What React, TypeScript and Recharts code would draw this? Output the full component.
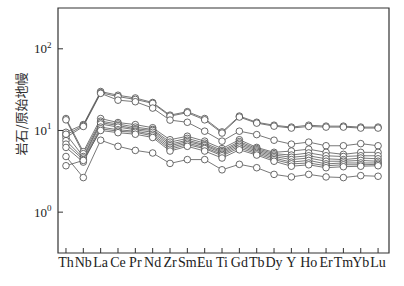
import React from 'react';
import { LineChart, Line, XAxis, YAxis, ReferenceArea } from 'recharts';

const categories = ['Th', 'Nb', 'La', 'Ce', 'Pr', 'Nd', 'Zr', 'Sm', 'Eu', 'Ti', 'Gd', 'Tb', 'Dy', 'Y', 'Ho', 'Er', 'Tm', 'Yb', 'Lu'];

const upper1 = [9.5, 11.8, 30, 27, 25, 22, 15.4, 17, 14, 9.6, 15, 12.6, 11.6, 11, 11.6, 11.3, 11.3, 11, 11];
const upper2 = [8.8, 11.5, 29, 26, 24, 21.5, 15, 16.5, 13.5, 9.3, 14.6, 12.3, 11.3, 10.7, 11.2, 11, 11, 10.7, 10.7];
const upper3 = [8.2, 11.2, 28.5, 23.5, 22.5, 18.8, 13.4, 12.6, 9.8, 7.4, 9.8, 8.9, 7.6, 6.8, 7.2, 6.5, 6.5, 6.9, 6.5];
const mid1 = [14, 5.5, 14, 12.5, 11.8, 10.8, 7.7, 8.5, 7.4, 6.0, 7.7, 6.2, 5.4, 5.6, 5.9, 5.4, 5.1, 5.4, 5.4];
const mid2 = [13.5, 5.2, 13, 12, 11, 10.3, 7.2, 8.0, 7.0, 5.7, 7.3, 6.0, 5.2, 5.0, 5.3, 4.9, 4.8, 4.9, 4.9];
const mid3 = [9, 4.8, 12.5, 11.5, 10.5, 10, 6.8, 7.6, 6.7, 5.5, 7.0, 5.8, 5.0, 4.7, 4.9, 4.5, 4.4, 4.6, 4.5];
const mid4 = [7.5, 4.6, 12, 11, 10.2, 9.5, 6.5, 7.3, 6.5, 5.3, 6.7, 5.6, 4.8, 4.4, 4.6, 4.2, 4.2, 4.3, 4.2];
const mid5 = [6.8, 4.4, 11, 10.2, 9.8, 9, 6.2, 7.0, 6.2, 5.1, 6.4, 5.4, 4.6, 4.1, 4.3, 3.9, 4.0, 4.0, 4.0];
const mid6 = [6.2, 4.1, 10.5, 9.8, 9.5, 8.6, 5.9, 6.7, 6.0, 4.9, 6.1, 5.2, 4.4, 3.9, 4.0, 3.7, 3.8, 3.8, 3.85];
const mid7 = [3.7, 4.3, 10, 9.4, 9.0, 8.2, 5.6, 6.4, 5.6, 4.6, 5.8, 5.0, 4.2, 3.65, 3.8, 3.5, 3.6, 3.65, 3.7];
const low1 = [4.8, 2.65, 7.6, 6.4, 5.7, 5.3, 3.95, 4.4, 4.4, 3.3, 3.85, 3.5, 2.9, 2.7, 2.9, 2.7, 2.65, 2.8, 2.75];

const seriesList = [upper1, upper2, upper3, mid1, mid2, mid3, mid4, mid5, mid6, mid7, low1];
const yTicks = [1, 10, 100];
const yExponents = ['0', '1', '2'];

const data = categories.map((c, i) => {
  const row: Record<string, number | string> = { x: i, name: c };
  seriesList.forEach((s, k) => {
    row['s' + k] = s[i];
  });
  return row;
});

const serifStyle = { fontFamily: "'Liberation Serif', 'Times New Roman', 'DejaVu Serif', serif" };

const XTick = (props: any) => {
  const { x, y, payload } = props;
  return (
    <g>
      <line x1={x} y1={y} x2={x} y2={y - 5} stroke="#333" strokeWidth={1} />
      <text x={x} y={y + 14} textAnchor="middle" style={serifStyle} fontSize={14} fill="#222">
        {categories[payload.value]}
      </text>
    </g>
  );
};

const YTick = (props: any) => {
  const { x, y, payload } = props;
  const idx = yTicks.indexOf(payload.value);
  return (
    <g>
      <line x1={x} y1={y} x2={x + 5} y2={y} stroke="#333" strokeWidth={1} />
      <text x={x - 11} y={y + 4.5} textAnchor="end" style={serifStyle} fontSize={13} fill="#222">
        10
      </text>
      <text x={x - 11} y={y - 1} textAnchor="start" style={serifStyle} fontSize={9} fill="#222">
        {yExponents[idx]}
      </text>
    </g>
  );
};

const YLabel = () => (
  <text
    x={20}
    y={114}
    transform="rotate(-90, 20, 114)"
    textAnchor="middle"
    dominantBaseline="central"
    style={{ fontFamily: "'Noto Sans CJK SC', sans-serif" }}
    fontSize={13}
    fill="#333"
  >
    岩石/原始地幔
  </text>
);

export default function App() {
  return (
    <div style={{ position: 'absolute', left: 0, top: 0, background: '#fff' }}>
      <LineChart width={404} height={286} data={data} margin={{ top: 8, right: 15, bottom: 8, left: 8 }}>
        <XAxis
          dataKey="x"
          type="number"
          domain={[-0.46, 18.63]}
          ticks={categories.map((_, i) => i)}
          interval={0}
          tick={<XTick />}
          tickLine={false}
          tickSize={0}
          tickMargin={0}
          axisLine={false}
          height={25}
          allowDataOverflow
        />
        <YAxis
          type="number"
          scale="log"
          domain={[0.316, 316]}
          ticks={yTicks}
          tick={<YTick />}
          tickLine={false}
          tickSize={0}
          tickMargin={0}
          axisLine={false}
          width={50}
          allowDataOverflow
          label={{ content: <YLabel /> } as any}
        />
        <ReferenceArea x1={-0.46} x2={18.63} y1={0.316} y2={316} fill="none" stroke="#333" strokeWidth={1.2} />
        {seriesList.map((_, k) => (
          <Line
            key={k}
            dataKey={'s' + k}
            type="linear"
            stroke="#555"
            strokeWidth={0.8}
            dot={{ r: 3.3, fill: '#fff', stroke: '#444', strokeWidth: 0.8 }}
            isAnimationActive={false}
          />
        ))}
      </LineChart>
    </div>
  );
}
